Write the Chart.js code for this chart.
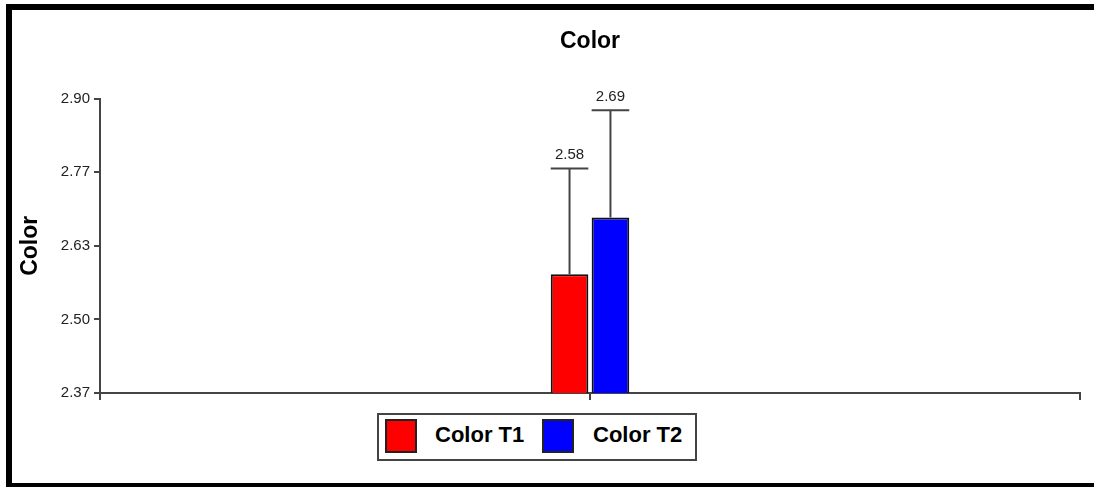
<!DOCTYPE html>
<html>
<head>
<meta charset="utf-8">
<script src="https://cdn.jsdelivr.net/npm/chart.js@4"></script>
<style>
  html, body { margin: 0; padding: 0; background: #fff; }
  #wrap { position: relative; width: 1094px; height: 487px; overflow: hidden; }
  #chart { position: absolute; left: 0; top: 0; }
  .frame { position: absolute; background: #000; }
  #legend {
    position: absolute; left: 377px; top: 413px; width: 320px; height: 48px;
    box-sizing: border-box; border: 2px solid #444; background: #fff;
    font-family: "Liberation Sans", Arial, sans-serif; font-weight: bold; font-size: 22px;
  }
  .swatch { position: absolute; top: 4px; width: 32px; height: 34px; box-sizing: border-box; border: 2px solid #222; }
  .ltext { position: absolute; top: 7px; line-height: 26px; color: #000; }
</style>
</head>
<body>
<div id="wrap">
  <canvas id="chart" width="1094" height="487"></canvas>
  <div class="frame" style="left:6px; top:4px; width:6px; height:483px;"></div>
  <div class="frame" style="left:6px; top:4px; width:1088px; height:6px;"></div>
  <div class="frame" style="left:6px; top:483px; width:1088px; height:4px;"></div>
  <div id="legend"></div>
</div>
<script>
// chart values
const categories = ['Color'];
const seriesNames = ['Color T1', 'Color T2'];
const seriesColors = ['#ff0000', '#0000ff'];
const means = [2.584, 2.686];
const errors = [0.19, 0.193];
const yTickLabels = ['2.37', '2.50', '2.63', '2.77', '2.90'];
const yMin = 2.37;
const yMax = 2.90;

// error bars + value labels
const errorBarPlugin = {
  id: 'errorBars',
  afterDatasetsDraw(chart) {
    const ctx = chart.ctx;
    const yScale = chart.scales.y;
    ctx.save();
    chart.data.datasets.forEach(function(ds, i) {
      const bar = chart.getDatasetMeta(i).data[0];
      const half = bar.width / 2;
      const topY = yScale.getPixelForValue(means[i] + errors[i]);
      ctx.strokeStyle = '#444';
      ctx.lineWidth = 2;
      ctx.beginPath();
      ctx.moveTo(bar.x, bar.y);
      ctx.lineTo(bar.x, topY);
      ctx.moveTo(bar.x - half, topY);
      ctx.lineTo(bar.x + half, topY);
      ctx.stroke();
      ctx.fillStyle = '#222';
      ctx.font = '15px "Liberation Sans", Arial, sans-serif';
      ctx.textAlign = 'center';
      ctx.textBaseline = 'bottom';
      ctx.fillText(means[i].toFixed(2), bar.x, topY - 6);
    });
    // tick under the category centre
    const xScale = chart.scales.x;
    const cx = xScale.getPixelForValue(0);
    ctx.strokeStyle = '#444';
    ctx.lineWidth = 2;
    ctx.beginPath();
    ctx.moveTo(cx, chart.chartArea.bottom);
    ctx.lineTo(cx, chart.chartArea.bottom + 7);
    ctx.stroke();
    ctx.restore();
  }
};

const ctx = document.getElementById('chart');
const chart = new Chart(ctx, {
  type: 'bar',
  data: {
    labels: categories,
    datasets: seriesNames.map(function(name, i) {
      return {
        label: name,
        data: [means[i]],
        backgroundColor: seriesColors[i],
        borderColor: '#111',
        borderWidth: 2,
        borderSkipped: false,
        categoryPercentage: 0.0835,
        barPercentage: 0.92
      };
    })
  },
  options: {
    responsive: false,
    animation: false,
    layout: { padding: { left: 17, right: 14, top: 0, bottom: 84 } },
    plugins: {
      legend: { display: false },
      tooltip: { enabled: false },
      title: {
        display: true,
        text: 'Color',
        fullSize: false,
        color: '#000',
        font: { family: '"Liberation Sans", Arial, sans-serif', size: 23, weight: 'bold' },
        padding: { top: 28, bottom: 43 }
      }
    },
    scales: {
      x: {
        grid: { drawOnChartArea: false, tickLength: 7, color: '#444', lineWidth: 2 },
        border: { color: '#444', width: 2 },
        ticks: { callback: function() { return ''; } },
        afterFit: function(scale) { scale.height = 10; }
      },
      y: {
        min: yMin,
        max: yMax,
        afterBuildTicks: function(scale) {
          const step = (yMax - yMin) / (yTickLabels.length - 1);
          scale.ticks = yTickLabels.map(function(t, i) { return { value: yMin + i * step }; });
        },
        afterFit: function(scale) { scale.width = 83; },
        grid: { drawOnChartArea: false, tickLength: 6, color: '#444', lineWidth: 2 },
        border: { color: '#444', width: 2 },
        ticks: {
          color: '#222',
          padding: 4,
          font: { family: '"Liberation Sans", Arial, sans-serif', size: 15 },
          callback: function(v, i) { return yTickLabels[i]; }
        },
        title: {
          display: true,
          text: 'Color',
          color: '#000',
          padding: 0,
          font: { family: '"Liberation Sans", Arial, sans-serif', size: 23, weight: 'bold' }
        }
      }
    }
  },
  plugins: [errorBarPlugin]
});

// legend built from the same series arrays
const legend = document.getElementById('legend');
const swatchLeft = [6, 163];
const textLeft = [56, 214];
seriesNames.forEach(function(name, i) {
  const sw = document.createElement('div');
  sw.className = 'swatch';
  sw.style.left = swatchLeft[i] + 'px';
  sw.style.background = seriesColors[i];
  legend.appendChild(sw);
  const tx = document.createElement('div');
  tx.className = 'ltext';
  tx.style.left = textLeft[i] + 'px';
  tx.textContent = name;
  legend.appendChild(tx);
});
</script>
</body>
</html>
